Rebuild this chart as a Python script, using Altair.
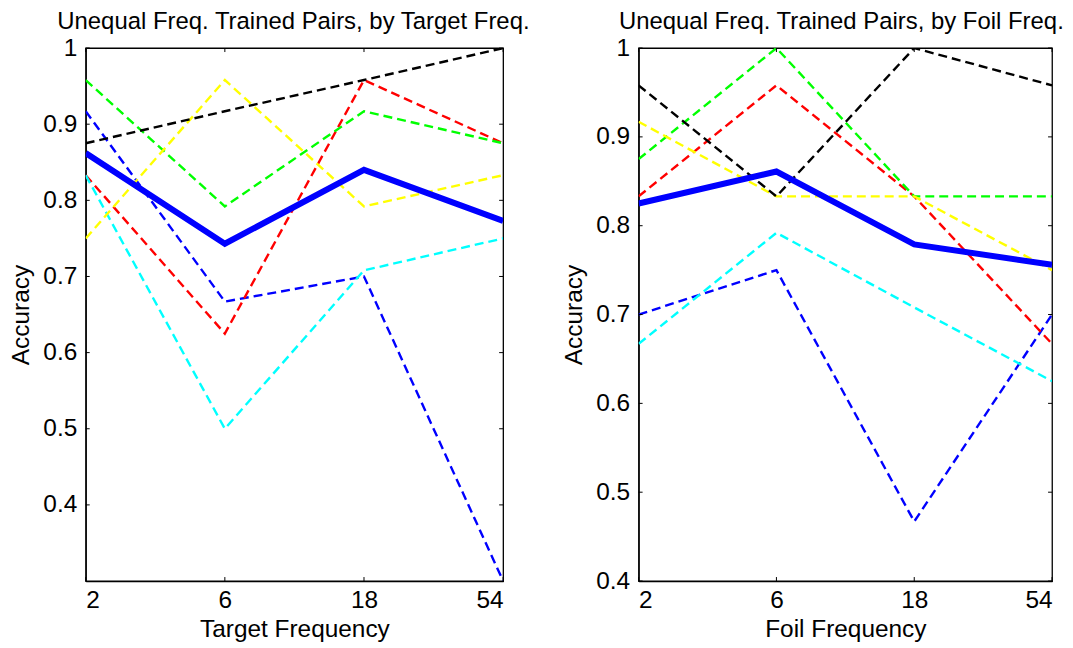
import altair as alt
import pandas as pd

freqs = [2, 6, 18, 54]
series_names = ["s_blue", "s_red", "s_green", "s_cyan", "s_yellow", "s_black"]
series_colors = ["#0000ff", "#ff0000", "#00ff00", "#00ffff", "#ffff00", "#000000"]

# Left panel: by target frequency
target_blue = [0.917, 0.667, 0.700, 0.300]
target_red = [0.833, 0.625, 0.958, 0.875]
target_green = [0.958, 0.792, 0.917, 0.875]
target_cyan = [0.833, 0.500, 0.708, 0.750]
target_yellow = [0.750, 0.958, 0.792, 0.833]
target_black = [0.875, 0.917, 0.958, 1.000]
target_mean = [0.862, 0.743, 0.840, 0.773]

# Right panel: by foil frequency
foil_blue = [0.700, 0.750, 0.467, 0.700]
foil_red = [0.833, 0.958, 0.833, 0.667]
foil_green = [0.875, 1.000, 0.833, 0.833]
foil_cyan = [0.667, 0.792, 0.708, 0.625]
foil_yellow = [0.917, 0.833, 0.833, 0.750]
foil_black = [0.958, 0.833, 1.000, 0.958]
foil_mean = [0.825, 0.861, 0.779, 0.756]

left_yticks = [0.4, 0.5, 0.6, 0.7, 0.8, 0.9, 1.0]
right_yticks = [0.4, 0.5, 0.6, 0.7, 0.8, 0.9, 1.0]

FONT = "Liberation Sans"
FS = 24.5
TFS = 24
H = 535
TICK = 4


def long_df(series_lists):
    rows = []
    for name, vals in zip(series_names, series_lists):
        for f, v in zip(freqs, vals):
            rows.append({"series": name, "freq": f, "acc": v})
    return pd.DataFrame(rows)


def panel(series_lists, mean_vals, title, xtitle, ydomain, yticks, width, tdx):
    df = long_df(series_lists)
    mdf = pd.DataFrame({"freq": freqs, "acc": mean_vals})
    xscale = alt.Scale(type="log", domain=[2, 54], nice=False)
    yscale = alt.Scale(domain=ydomain, nice=False, zero=False)
    xaxis = alt.Axis(values=freqs, format="d", title=xtitle, labelPadding=8, titlePadding=5)
    yaxis = alt.Axis(values=yticks, format=".1~f", title="Accuracy", labelPadding=9,
                     titlePadding=9)

    def X(field="freq"):
        return alt.X(f"{field}:Q", scale=xscale, axis=xaxis)

    def Y(field="acc"):
        return alt.Y(f"{field}:Q", scale=yscale, axis=yaxis)

    dashed = alt.Chart(df).mark_line(strokeWidth=2.4, strokeDash=[9, 5], clip=True).encode(
        x=X(), y=Y(),
        color=alt.Color("series:N", scale=alt.Scale(domain=series_names, range=series_colors),
                        legend=None),
        detail="series:N",
    )
    mean = alt.Chart(mdf).mark_line(strokeWidth=6, color="#0000ff", clip=True).encode(
        x=X(), y=Y(),
    )
    ydf = pd.DataFrame({"acc": yticks})
    xdf = pd.DataFrame({"freq": freqs})
    yt_left = alt.Chart(ydf).mark_rule(color="black", strokeWidth=1).encode(
        y=Y(), x=alt.value(0), x2=alt.value(TICK))
    yt_right = alt.Chart(ydf).mark_rule(color="black", strokeWidth=1).encode(
        y=Y(), x=alt.value(width - TICK), x2=alt.value(width))
    xt_bot = alt.Chart(xdf).mark_rule(color="black", strokeWidth=1).encode(
        x=X(), y=alt.value(H), y2=alt.value(H - TICK))
    xt_top = alt.Chart(xdf).mark_rule(color="black", strokeWidth=1).encode(
        x=X(), y=alt.value(0), y2=alt.value(TICK))
    return alt.layer(dashed, mean, yt_left, yt_right, xt_bot, xt_top).properties(
        width=width, height=H,
        title=alt.TitleParams(title, fontSize=TFS, font=FONT, fontWeight="normal",
                              anchor="middle", color="black", offset=1, dx=tdx),
    )


left = panel([target_blue, target_red, target_green, target_cyan, target_yellow, target_black],
             target_mean, "Unequal Freq. Trained Pairs, by Target Freq.", "Target Frequency",
             [0.3, 1.0], left_yticks, 419, -1)
right = panel([foil_blue, foil_red, foil_green, foil_cyan, foil_yellow, foil_black],
              foil_mean, "Unequal Freq. Trained Pairs, by Foil Freq.", "Foil Frequency",
              [0.4, 1.0], right_yticks, 415, -4)

chart = alt.hconcat(left, right, spacing=30).properties(
    padding={"left": 0, "top": 0, "right": 0, "bottom": 0}, background="white"
).configure_view(stroke="black", strokeWidth=1.3).configure_axis(
    grid=False, ticks=False, domain=True, domainColor="black", domainWidth=1.3,
    labelFont=FONT, titleFont=FONT, labelFontSize=FS, titleFontSize=FS,
    labelColor="black", titleColor="black", titleFontWeight="normal",
)

chart.save("out.html", embed_options={"renderer": "svg", "actions": False})
